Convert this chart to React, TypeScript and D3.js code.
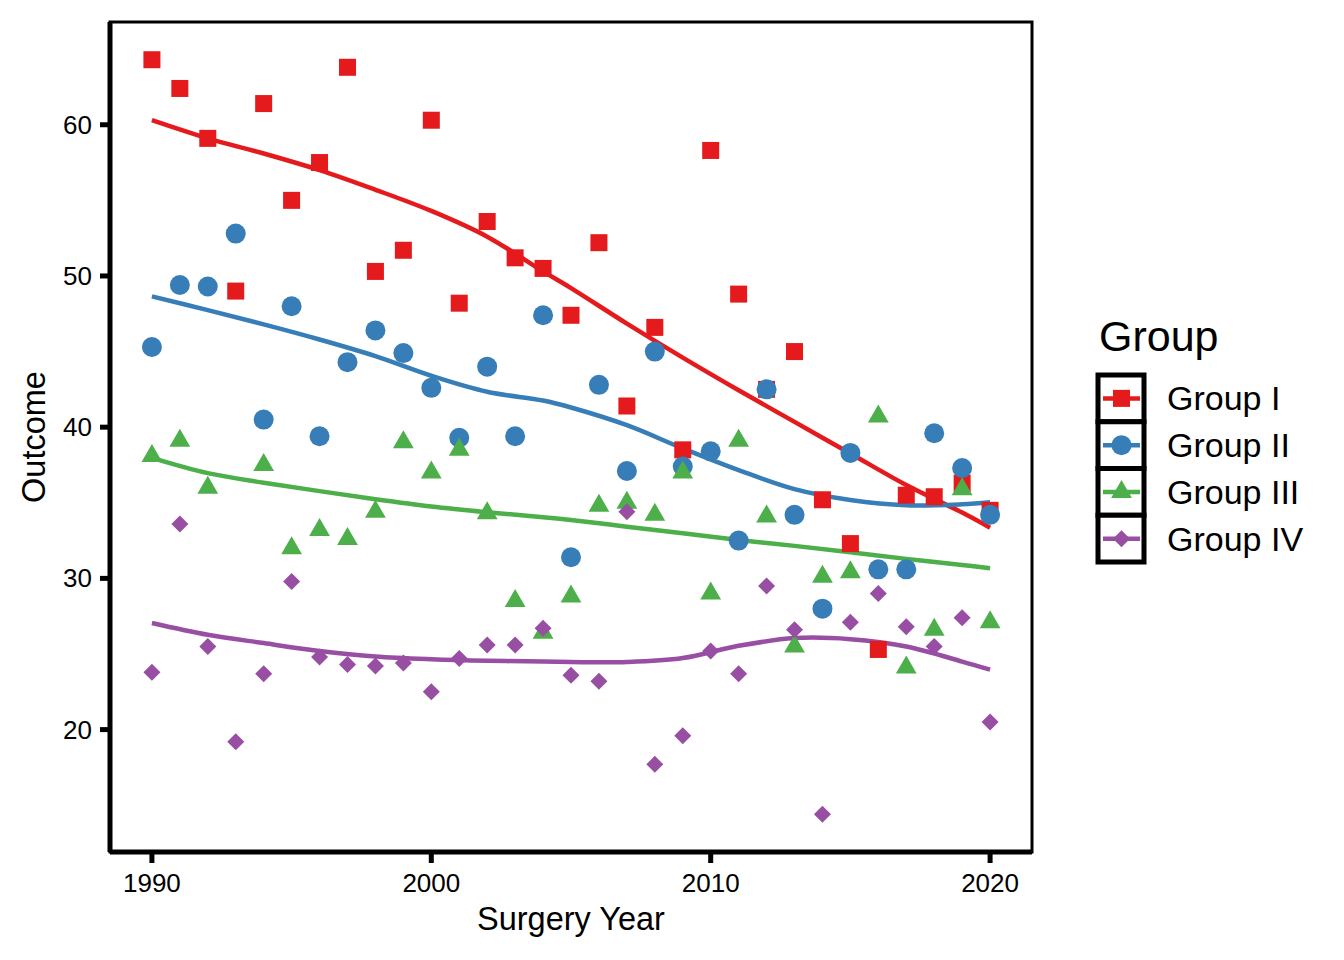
import * as d3 from "d3";

// Surgery year on x, outcome on y, one series per group
const years = [
  1990, 1991, 1992, 1993, 1994, 1995, 1996, 1997, 1998, 1999, 2000,
  2001, 2002, 2003, 2004, 2005, 2006, 2007, 2008, 2009, 2010,
  2011, 2012, 2013, 2014, 2015, 2016, 2017, 2018, 2019, 2020,
];

const groupI = [
  64.3, 62.4, 59.1, 49.0, 61.4, 55.0, 57.5, 63.8, 50.3, 51.7, 60.3,
  48.2, 53.6, 51.2, 50.5, 47.4, 52.2, 41.4, 46.6, 38.5, 58.3,
  48.8, 42.5, 45.0, 35.2, 32.3, 25.3, 35.5, 35.4, 36.3, 34.5,
];

const groupII = [
  45.3, 49.4, 49.3, 52.8, 40.5, 48.0, 39.4, 44.3, 46.4, 44.9, 42.6,
  39.3, 44.0, 39.4, 47.4, 31.4, 42.8, 37.1, 45.0, 37.4, 38.4,
  32.5, 42.5, 34.2, 28.0, 38.3, 30.6, 30.6, 39.6, 37.3, 34.2,
];

// 1993 has no visible point for group III
const groupIII = [
  38.1, 39.1, 36.0, null, 37.5, 32.0, 33.2, 32.6, 34.4, 39.0, 37.0,
  38.5, 34.3, 28.5, 26.4, 28.8, 34.8, 35.0, 34.2, 37.0, 29.0,
  39.1, 34.1, 25.5, 30.1, 30.4, 40.7, 24.1, 26.6, 35.9, 27.1,
];

const groupIV = [
  23.8, 33.6, 25.5, 19.2, 23.7, 29.8, 24.8, 24.3, 24.2, 24.4, 22.5,
  24.7, 25.6, 25.6, 26.7, 23.6, 23.2, 34.4, 17.7, 19.6, 25.2,
  23.7, 29.5, 26.6, 14.4, 27.1, 29.0, 26.8, 25.5, 27.4, 20.5,
];

// smoothed trend per group at these years
const smoothYears = [
  1990, 1992, 1994, 1996, 1998, 2000, 2002, 2004, 2005,
  2007, 2009, 2011, 2013, 2015, 2017, 2019, 2020,
];
const smoothI = [
  60.3, 59.1, 58.1, 57.0, 55.7, 54.3, 52.6, 50.3, 49.2,
  46.85, 44.6, 42.44, 40.35, 38.26, 36.17, 34.35, 33.35,
];
const smoothII = [
  48.65, 47.74, 46.8, 45.8, 44.7, 43.4, 42.34, 41.76, 41.3,
  40.13, 38.6, 37.16, 35.9, 35.18, 34.83, 34.9, 35.03,
];
const smoothIII = [
  37.97, 36.96, 36.33, 35.77, 35.24, 34.76, 34.38, 34.05, 33.86,
  33.42, 32.98, 32.54, 32.15, 31.73, 31.29, 30.89, 30.67,
];
const smoothIV = [
  27.05, 26.27, 25.72, 25.2, 24.83, 24.65, 24.55, 24.5, 24.47,
  24.47, 24.73, 25.54, 26.05, 25.98, 25.5, 24.5, 23.96,
];

const groupNames = ["Group I", "Group II", "Group III", "Group IV"];
const groupColors = ["#E41A1C", "#377EB8", "#4DAF4A", "#984EA3"];
const groupShapes = ["square", "circle", "triangle", "diamond"];

const xTicks = [1990, 2000, 2010, 2020];
const yTicks = [20, 30, 40, 50, 60];

const width = 1344;
const height = 960;
const margin = { top: 22, right: 312, bottom: 108, left: 110 };
const font = "'Liberation Sans', Arial, Helvetica, sans-serif";

type Pt = { x: number; y: number };

const series: Pt[][] = [groupI, groupII, groupIII, groupIV].map((vals) =>
  years
    .map((yr, i) => ({ x: yr, y: vals[i] as number }))
    .filter((p) => p.y !== null && p.y !== undefined)
);

const smooths: Pt[][] = [smoothI, smoothII, smoothIII, smoothIV].map((vals) =>
  smoothYears.map((yr, i) => ({ x: yr, y: vals[i] }))
);

function Marker({ shape, cx, cy, color }: { shape: string; cx: number; cy: number; color: string }) {
  if (shape === "square")
    return <rect x={cx - 8.5} y={cy - 8.5} width={17} height={17} fill={color} />;
  if (shape === "circle") return <circle cx={cx} cy={cy} r={10} fill={color} />;
  if (shape === "triangle")
    return (
      <polygon
        points={`${cx},${cy - 12} ${cx + 10.4},${cy + 6} ${cx - 10.4},${cy + 6}`}
        fill={color}
      />
    );
  return (
    <polygon
      points={`${cx},${cy - 8.5} ${cx + 8.5},${cy} ${cx},${cy + 8.5} ${cx - 8.5},${cy}`}
      fill={color}
    />
  );
}

export default function App() {
  const allX = series.flat().map((p) => p.x);
  const allY = series.flat().map((p) => p.y);
  const [x0, x1] = d3.extent(allX) as [number, number];
  const [y0, y1] = d3.extent(allY) as [number, number];
  const xPad = (x1 - x0) * 0.05;
  const yPad = (y1 - y0) * 0.05;

  const left = margin.left;
  const right = width - margin.right;
  const top = margin.top;
  const bottom = height - margin.bottom;

  const x = d3.scaleLinear().domain([x0 - xPad, x1 + xPad]).range([left, right]);
  const y = d3.scaleLinear().domain([y0 - yPad, y1 + yPad]).range([bottom, top]);

  const line = d3
    .line<Pt>()
    .x((d) => x(d.x))
    .y((d) => y(d.y))
    .curve(d3.curveCatmullRom.alpha(0.5));

  const keyTop = 375;
  const keyH = 46.75;

  return (
    <svg
      width={width}
      height={height}
      style={{ position: "fixed", left: 0, top: 0, background: "#fff" }}
      fontFamily={font}
    >
      <rect x={0} y={0} width={width} height={height} fill="#fff" />

      {/* smoothers */}
      {smooths.map((s, i) => (
        <path
          key={`s${i}`}
          d={line(s) || ""}
          fill="none"
          stroke={groupColors[i]}
          strokeWidth={4.5}
        />
      ))}

      {/* points */}
      {series.map((s, i) =>
        s.map((p, j) => (
          <Marker
            key={`p${i}-${j}`}
            shape={groupShapes[i]}
            cx={x(p.x)}
            cy={y(p.y)}
            color={groupColors[i]}
          />
        ))
      )}

      {/* panel border */}
      <rect
        x={left}
        y={top}
        width={right - left}
        height={bottom - top}
        fill="none"
        stroke="#000"
        strokeWidth={3}
      />
      {/* axis lines */}
      <line x1={left} x2={right} y1={bottom} y2={bottom} stroke="#000" strokeWidth={5} />
      <line x1={left} x2={left} y1={top} y2={bottom} stroke="#000" strokeWidth={5} />

      {/* x axis */}
      {xTicks.map((t) => (
        <g key={`xt${t}`}>
          <line x1={x(t)} x2={x(t)} y1={bottom} y2={bottom + 11} stroke="#000" strokeWidth={5} />
          <text x={x(t)} y={bottom + 40} textAnchor="middle" fontSize={26} fill="#000">
            {t}
          </text>
        </g>
      ))}
      {/* y axis */}
      {yTicks.map((t) => (
        <g key={`yt${t}`}>
          <line x1={left - 10} x2={left} y1={y(t)} y2={y(t)} stroke="#000" strokeWidth={5} />
          <text x={left - 18} y={y(t) + 9} textAnchor="end" fontSize={26} fill="#000">
            {t}
          </text>
        </g>
      ))}

      <text x={(left + right) / 2} y={930} textAnchor="middle" fontSize={32.5} fill="#000">
        Surgery Year
      </text>
      <text
        transform={`translate(45,${(top + bottom) / 2}) rotate(-90)`}
        textAnchor="middle"
        fontSize={32.5}
        fill="#000"
      >
        Outcome
      </text>

      {/* legend */}
      <text x={1099} y={351} fontSize={43} fill="#000">
        Group
      </text>
      {groupNames.map((name, i) => {
        const cy = keyTop + keyH * i + keyH / 2;
        return (
          <g key={`lg${i}`}>
            <rect
              x={1098}
              y={keyTop + keyH * i}
              width={46}
              height={keyH}
              fill="#fff"
              stroke="#000"
              strokeWidth={5}
            />
            <line x1={1103} x2={1140} y1={cy} y2={cy} stroke={groupColors[i]} strokeWidth={4.5} />
            <Marker shape={groupShapes[i]} cx={1121.5} cy={cy} color={groupColors[i]} />
            <text x={1167} y={cy + 12} fontSize={34} fill="#000">
              {name}
            </text>
          </g>
        );
      })}
    </svg>
  );
}
